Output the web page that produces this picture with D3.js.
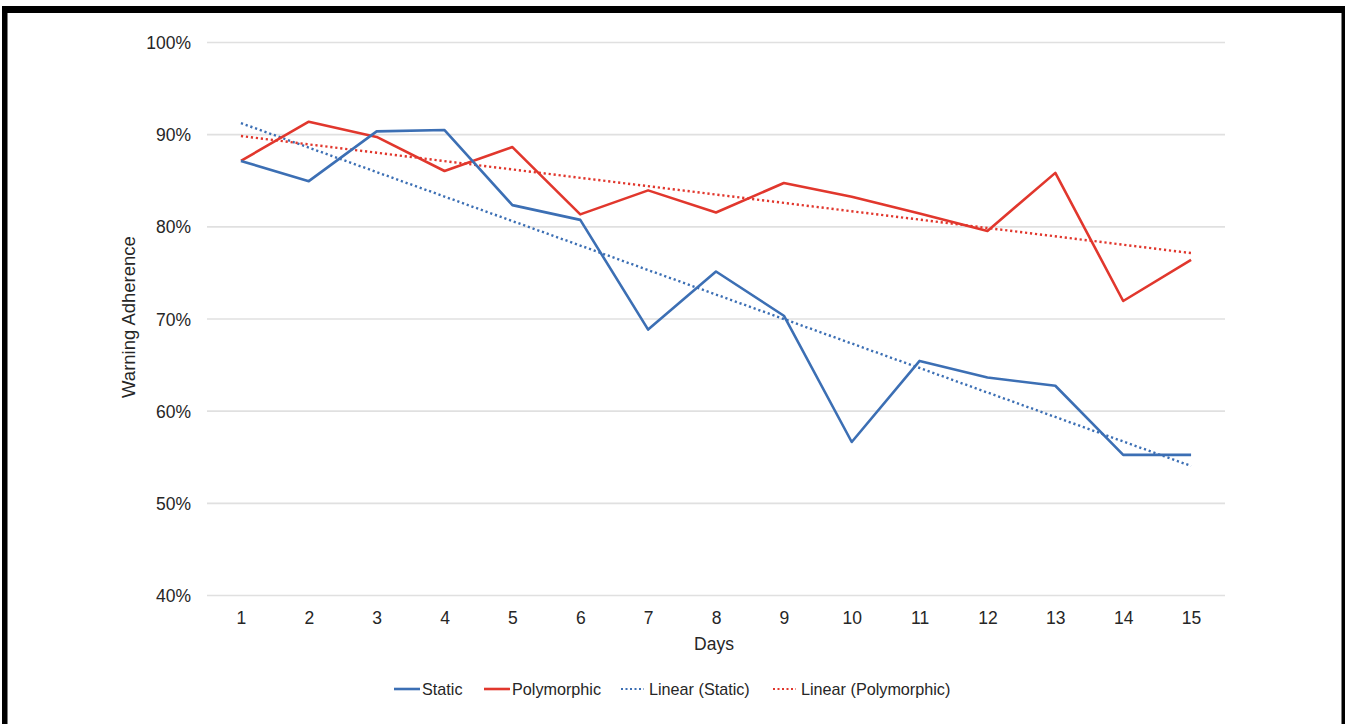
<!DOCTYPE html>
<html>
<head>
<meta charset="utf-8">
<script src="https://cdn.jsdelivr.net/npm/d3@7"></script>
<style>
  html, body { margin: 0; padding: 0; background: #fff; }
  svg { display: block; font-family: "Liberation Sans", Arial, Helvetica, sans-serif; }
</style>
</head>
<body>
<svg id="chart" width="1345" height="724"></svg>
<script>
// ---- data ----
const days = [1, 2, 3, 4, 5, 6, 7, 8, 9, 10, 11, 12, 13, 14, 15];
const staticValues = [87.1, 84.9, 90.3, 90.45, 82.3, 80.7, 68.8, 75.1, 70.3, 56.6, 65.4, 63.6, 62.7, 55.2, 55.2];
const polymorphicValues = [87.1, 91.35, 89.7, 86.0, 88.6, 81.3, 83.9, 81.5, 84.7, 83.2, 81.4, 79.5, 85.8, 71.9, 76.35];
const trendDays = [1, 15];
const staticTrend = [91.2, 54.0];
const polymorphicTrend = [89.8, 77.1];
const yTicks = [40, 50, 60, 70, 80, 90, 100];
const legendLabels = ["Static", "Polymorphic", "Linear (Static)", "Linear (Polymorphic)"];

const BLUE = "#3c6fb4";
const RED = "#e1372d";
const TEXT = "#262626";

const svg = d3.select("#chart");

// frame (black border of the picture)
svg.append("rect").attr("x", 2).attr("y", 6).attr("width", 1343).attr("height", 7).attr("fill", "#000");
svg.append("rect").attr("x", 2).attr("y", 6).attr("width", 5.5).attr("height", 718).attr("fill", "#000");
svg.append("rect").attr("x", 1341.5).attr("y", 6).attr("width", 3.5).attr("height", 718).attr("fill", "#000");

const plotLeft = 207, plotRight = 1225, plotTop = 42, plotBottom = 595;

const x = d3.scalePoint().domain(days).range([plotLeft, plotRight]).padding(0.5);
const y = d3.scaleLinear().domain([40, 100]).range([plotBottom, plotTop]);

// y axis with gridlines
const yAxis = svg.append("g")
  .attr("transform", `translate(${plotLeft},0)`)
  .call(d3.axisLeft(y).tickValues(yTicks).tickFormat(d => d + "%")
    .tickSizeInner(-(plotRight - plotLeft)).tickSizeOuter(0).tickPadding(16));
yAxis.select(".domain").remove();
yAxis.selectAll(".tick line").attr("stroke", "#e0e0e0").attr("stroke-width", 1.6);
yAxis.selectAll(".tick text").attr("font-size", 17.5).attr("fill", TEXT).attr("dy", "0.38em")
  .attr("font-family", "Liberation Sans, Arial, sans-serif");

// x axis
const xAxis = svg.append("g")
  .attr("transform", `translate(0,${plotBottom})`)
  .call(d3.axisBottom(x).tickSize(0).tickPadding(16.5));
xAxis.select(".domain").remove();
xAxis.selectAll(".tick text").attr("font-size", 17.5).attr("fill", TEXT)
  .attr("font-family", "Liberation Sans, Arial, sans-serif");

// axis titles
svg.append("text").attr("x", (plotLeft + plotRight) / 2 - 2).attr("y", 650)
  .attr("text-anchor", "middle").attr("font-size", 17.5).attr("fill", TEXT).text("Days");
svg.append("text").attr("transform", "translate(135,317) rotate(-90)")
  .attr("text-anchor", "middle").attr("font-size", 18.5).attr("fill", TEXT).text("Warning Adherence");

// lines
const line = d3.line().x(d => x(d[0])).y(d => y(d[1]));

function trendLine(vals) {
  return line([[trendDays[0], vals[0]], [trendDays[1], vals[1]]]);
}

svg.append("path").attr("d", trendLine(staticTrend))
  .attr("fill", "none").attr("stroke", BLUE).attr("stroke-width", 2.4).attr("stroke-dasharray", "2.2,2.8");
svg.append("path").attr("d", trendLine(polymorphicTrend))
  .attr("fill", "none").attr("stroke", RED).attr("stroke-width", 2.4).attr("stroke-dasharray", "2.2,2.8");

svg.append("path").datum(days.map((d, i) => [d, polymorphicValues[i]])).attr("d", line)
  .attr("fill", "none").attr("stroke", RED).attr("stroke-width", 2.6).attr("stroke-linejoin", "round");
svg.append("path").datum(days.map((d, i) => [d, staticValues[i]])).attr("d", line)
  .attr("fill", "none").attr("stroke", BLUE).attr("stroke-width", 2.6).attr("stroke-linejoin", "round");

// legend
const legendY = 689;
const legendItems = [
  { label: legendLabels[0], color: BLUE, dash: null, x0: 394, x1: 420 },
  { label: legendLabels[1], color: RED, dash: null, x0: 484, x1: 510 },
  { label: legendLabels[2], color: BLUE, dash: "2,2.5", x0: 621, x1: 644 },
  { label: legendLabels[3], color: RED, dash: "2,2.5", x0: 773, x1: 796 }
];
const lg = svg.append("g");
legendItems.forEach(it => {
  lg.append("line").attr("x1", it.x0).attr("x2", it.x1).attr("y1", legendY).attr("y2", legendY)
    .attr("stroke", it.color).attr("stroke-width", it.dash ? 2 : 2.6)
    .attr("stroke-dasharray", it.dash);
  lg.append("text").attr("x", it.x1 + (it.dash ? 5 : 2)).attr("y", legendY).attr("dy", "0.36em")
    .attr("font-size", 16.2).attr("fill", TEXT).text(it.label);
});
</script>
</body>
</html>
